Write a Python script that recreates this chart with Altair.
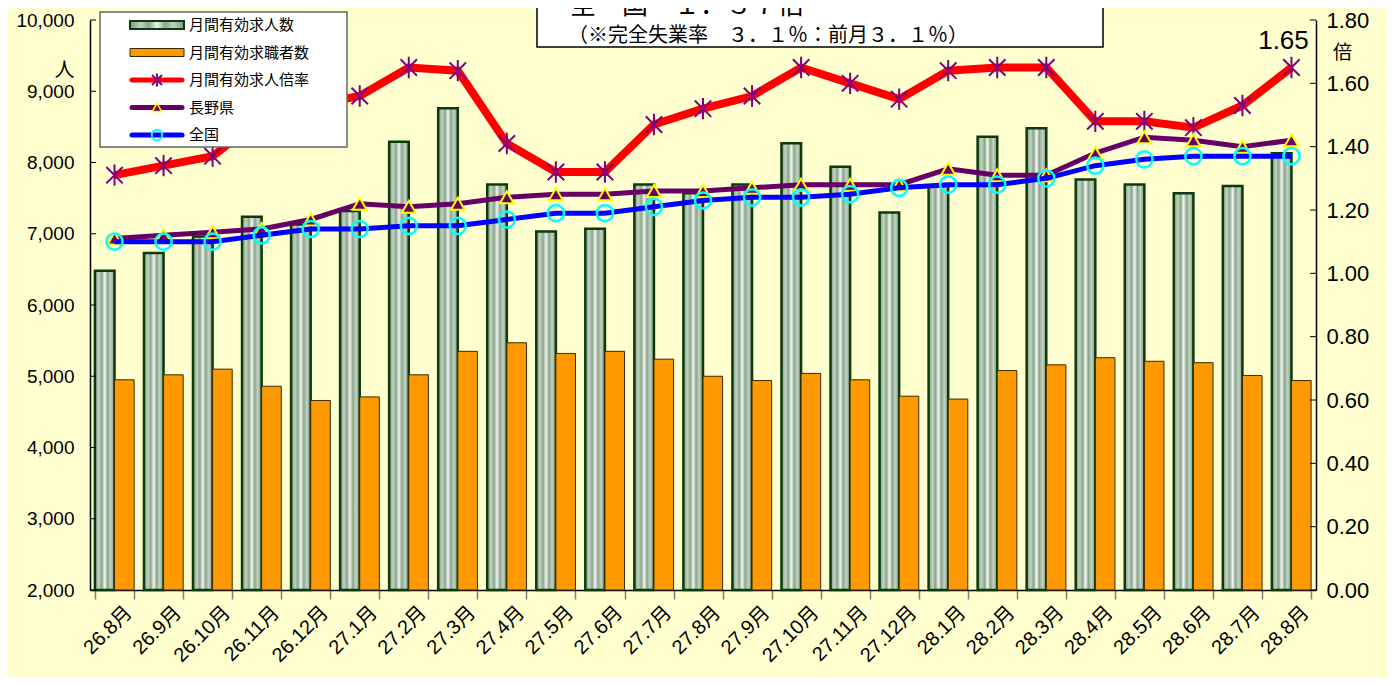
import altair as alt
import pandas as pd

# ---------------- data ----------------
months = ["26.8月", "26.9月", "26.10月", "26.11月", "26.12月",
          "27.1月", "27.2月", "27.3月", "27.4月", "27.5月", "27.6月",
          "27.7月", "27.8月", "27.9月", "27.10月", "27.11月", "27.12月",
          "28.1月", "28.2月", "28.3月", "28.4月", "28.5月", "28.6月",
          "28.7月", "28.8月"]
offers = [6480, 6730, 6960, 7240, 7130, 7320, 8290, 8760, 7690, 7030, 7070,
          7690, 7570, 7690, 8270, 7940, 7300, 7670, 8360, 8480, 7760, 7690,
          7570, 7670, 8130]
seekers = [4950, 5020, 5100, 4860, 4660, 4710, 5020, 5350, 5470, 5320, 5350,
           5240, 5000, 4940, 5040, 4950, 4720, 4680, 5080, 5160, 5260, 5210,
           5190, 5010, 4940]
ratio = [1.31, 1.34, 1.37, 1.49, 1.53, 1.56, 1.65, 1.64, 1.41, 1.32, 1.32,
         1.47, 1.52, 1.56, 1.65, 1.60, 1.55, 1.64, 1.65, 1.65, 1.48, 1.48,
         1.46, 1.53, 1.65]
nagano = [1.11, 1.12, 1.13, 1.14, 1.17, 1.22, 1.21, 1.22, 1.24, 1.25, 1.25,
          1.26, 1.26, 1.27, 1.28, 1.28, 1.28, 1.33, 1.31, 1.31, 1.38, 1.43,
          1.42, 1.40, 1.42]
national = [1.10, 1.10, 1.10, 1.12, 1.14, 1.14, 1.15, 1.15, 1.17, 1.19, 1.19,
            1.21, 1.23, 1.24, 1.24, 1.25, 1.27, 1.28, 1.28, 1.30, 1.34, 1.36,
            1.37, 1.37, 1.37]
series_names = ["月間有効求人数", "月間有効求職者数", "月間有効求人倍率", "長野県", "全国"]
left_ticks = [2000, 3000, 4000, 5000, 6000, 7000, 8000, 9000, 10000]
right_ticks = [0.0, 0.2, 0.4, 0.6, 0.8, 1.0, 1.2, 1.4, 1.6, 1.8]
title_line1 = "全　国　１．３７倍"
title_line2 = "（※完全失業率　３．１％：前月３．１％）"

# ---------------- styling ----------------
W, H = 1226, 570
FONT = "Liberation Sans, Noto Sans CJK JP, sans-serif"
JFONT = "Noto Sans CJK JP, sans-serif"
BG = "#FFFFD0"
GREEN_FILL = alt.LinearGradient(
    gradient="linear", x1=0, x2=1, y1=0, y2=0,
    stops=[alt.GradientStop(offset=0.0, color="#76987a"),
           alt.GradientStop(offset=0.2, color="#c4d2c4"),
           alt.GradientStop(offset=0.35, color="#8aa68a"),
           alt.GradientStop(offset=0.5, color="#f2f5f2"),
           alt.GradientStop(offset=0.65, color="#8aa68a"),
           alt.GradientStop(offset=0.8, color="#c4d2c4"),
           alt.GradientStop(offset=1.0, color="#76987a")])
GREEN_STROKE = "#0B3B0B"
ORANGE = "#FF9900"
RED = "#FF0000"
PURPLE = "#660066"
STAR = "#800080"
BLUE = "#0000FF"
CYAN = "#00FFFF"
STAR_SHAPE = "M-1,-1L1,1M-1,1L1,-1M0,-1.3L0,1.3"

bars_df = pd.DataFrame({
    "month": months * 2,
    "series": [series_names[0]] * len(months) + [series_names[1]] * len(months),
    "value": offers + seekers,
})
lines_df = pd.DataFrame({"month": months, "ratio": ratio,
                         "nagano": nagano, "national": national})
lt_df = pd.DataFrame({"value": left_ticks})
rt_df = pd.DataFrame({"r": right_ticks})

x_enc = alt.X(
    "month:N", sort=months,
    scale=alt.Scale(domain=months, paddingInner=0.2, paddingOuter=0.1),
    axis=alt.Axis(title=None, labelAngle=-45, labelAlign="right",
                  labelBaseline="middle", labelFontSize=20, labelFont=FONT,
                  labelColor="black", labelPadding=10, labelOffset=14,
                  tickBand="extent", tickColor="#808080", tickSize=9,
                  tickWidth=1.5, domainColor="black", domainWidth=1.5,
                  grid=False, labelOverlap=False))

left_scale = alt.Scale(domain=[2000, 10000], nice=False, zero=False)
left_axis = alt.Axis(values=left_ticks, format=",.0f", orient="left", title="人",
                     titleAngle=0, titleX=-26, titleY=50, titleFontSize=20,
                     titleFont=JFONT, titleFontWeight="normal",
                     titleColor="black", titleAlign="center",
                     titleBaseline="middle", labelFontSize=19, labelFont=FONT,
                     labelColor="black", labelPadding=16, tickSize=0,
                     grid=False, domainColor="black", domainWidth=1.5)
right_scale = alt.Scale(domain=[0, 1.8], nice=False, zero=True)
right_axis = alt.Axis(values=right_ticks, format=".2f", orient="right",
                      title="倍", titleAngle=0, titleX=26, titleY=32,
                      titleFontSize=19, titleFont=JFONT,
                      titleFontWeight="normal", titleColor="black",
                      titleAlign="center", titleBaseline="middle",
                      labelFontSize=22, labelFont=FONT, labelColor="black",
                      labelPadding=10, tickSize=0, grid=False,
                      domainColor="black", domainWidth=1.5)

def y_left(field="value"):
    return alt.Y(f"{field}:Q", scale=left_scale, axis=left_axis)

def y_right(field):
    return alt.Y(f"{field}:Q", scale=right_scale, axis=right_axis)

xoff = alt.XOffset("series:N", scale=alt.Scale(domain=series_names[:2],
                                                paddingInner=0, paddingOuter=0))

base_bars = alt.Chart(bars_df)
green = base_bars.transform_filter(alt.datum.series == series_names[0]).mark_bar(
    fill=GREEN_FILL, stroke=GREEN_STROKE, strokeWidth=2.5
).encode(x=x_enc, xOffset=xoff, y=y_left(), y2=alt.datum(2000))
orange = base_bars.transform_filter(alt.datum.series == series_names[1]).mark_bar(
    fill=ORANGE, stroke="#3a2a00", strokeWidth=1
).encode(x=x_enc, xOffset=xoff, y=y_left(), y2=alt.datum(2000))
ticks_l = alt.Chart(lt_df).mark_rule(color="black", strokeWidth=1).encode(
    y=y_left(), x=alt.value(0), x2=alt.value(6))
left_layer = alt.layer(green, orange, ticks_l)

base_l = alt.Chart(lines_df)
red_line = base_l.mark_line(color=RED, strokeWidth=8).encode(x=x_enc, y=y_right("ratio"))
red_pts = base_l.mark_point(shape=STAR_SHAPE, filled=False, stroke=STAR,
                            strokeWidth=2, size=270, opacity=1).encode(
    x=x_enc, y=y_right("ratio"))
pur_line = base_l.mark_line(color=PURPLE, strokeWidth=5).encode(x=x_enc, y=y_right("nagano"))
pur_pts = base_l.mark_point(shape="triangle-up", filled=True, fill=PURPLE,
                            stroke="#FFFF00", strokeWidth=2, size=190,
                            opacity=1).encode(x=x_enc, y=y_right("nagano"))
blu_line = base_l.mark_line(color=BLUE, strokeWidth=5).encode(x=x_enc, y=y_right("national"))
blu_pts = base_l.mark_point(shape="circle", filled=False, stroke=CYAN,
                            strokeWidth=2.5, size=260, opacity=1).encode(
    x=x_enc, y=y_right("national"))
last_lbl = base_l.transform_filter(alt.datum.month == months[-1]).mark_text(
    fontSize=26, font=FONT, color="black", dx=-8, dy=-27
).encode(x=x_enc, y=y_right("ratio"), text=alt.Text("ratio:Q", format=".2f"))
ticks_r = alt.Chart(rt_df).mark_rule(color="black", strokeWidth=1).encode(
    y=y_right("r"), x=alt.value(W - 6), x2=alt.value(W))
right_layer = alt.layer(red_line, red_pts, pur_line, pur_pts, blu_line,
                        blu_pts, last_lbl, ticks_r)

# ---------------- legend (annotation) ----------------
LX0, LX1, LY0, LY1 = 10, 257, -8, 127
ROW0, ROWH = 5, 27.5
SYM0, SYM1, MARK_X, TXT_X = 40, 94, 67, 99
leg_df = pd.DataFrame({"label": series_names, "idx": list(range(5))})
leg_df["ly"] = ROW0 + leg_df["idx"] * ROWH
leg_base = alt.Chart(leg_df)
one = alt.Chart(pd.DataFrame({"a": [0]}))

leg_box = one.mark_rect(fill="white", stroke="#666666", strokeWidth=1.5).encode(
    x=alt.value(LX0), x2=alt.value(LX1), y=alt.value(LY0), y2=alt.value(LY1))

def ly(field="ly"):
    return alt.Y(f"{field}:Q", scale=None, axis=None)

leg_rect_g = leg_base.transform_filter(alt.datum.idx == 0).transform_calculate(
    t="datum.ly - 4", b="datum.ly + 4").mark_rect(
    fill=GREEN_FILL, stroke=GREEN_STROKE, strokeWidth=2).encode(
    x=alt.value(SYM0), x2=alt.value(SYM1), y=ly("t"), y2=alt.Y2("b:Q"))
leg_rect_o = leg_base.transform_filter(alt.datum.idx == 1).transform_calculate(
    t="datum.ly - 4", b="datum.ly + 4").mark_rect(
    fill=ORANGE, stroke="#3a2a00", strokeWidth=1).encode(
    x=alt.value(SYM0), x2=alt.value(SYM1), y=ly("t"), y2=alt.Y2("b:Q"))
leg_lines = leg_base.transform_filter(alt.datum.idx >= 2).mark_rule(
    strokeWidth=5, strokeCap="round").encode(
    x=alt.value(SYM0 + 2), x2=alt.value(SYM1 - 2), y=ly(),
    color=alt.Color("label:N", scale=alt.Scale(domain=series_names[2:],
                                               range=[RED, PURPLE, BLUE]),
                    legend=None))
leg_star = leg_base.transform_filter(alt.datum.idx == 2).mark_point(
    shape=STAR_SHAPE, filled=False, stroke=STAR, strokeWidth=2, size=100,
    opacity=1).encode(x=alt.value(MARK_X), y=ly())
leg_tri = leg_base.transform_filter(alt.datum.idx == 3).mark_point(
    shape="triangle-up", filled=True, fill=PURPLE, stroke="#FFFF00",
    strokeWidth=1.5, size=90, opacity=1).encode(x=alt.value(MARK_X), y=ly())
leg_circ = leg_base.transform_filter(alt.datum.idx == 4).mark_point(
    shape="circle", filled=False, stroke=CYAN, strokeWidth=2, size=110,
    opacity=1).encode(x=alt.value(MARK_X), y=ly())
leg_text = leg_base.mark_text(align="left", baseline="middle", fontSize=15,
                              font=JFONT, color="black").encode(
    x=alt.value(TXT_X), y=ly(), text="label:N")

# ---------------- title box (annotation) ----------------
tbox = one.mark_rect(fill="white", stroke="black", strokeWidth=1.5).encode(
    x=alt.value(447), x2=alt.value(1013), y=alt.value(-30), y2=alt.value(27))
t1 = alt.Chart(pd.DataFrame({"t": [title_line1]})).mark_text(
    align="left", baseline="alphabetic", fontSize=26, font=JFONT,
    color="black").encode(x=alt.value(480), y=alt.value(-6), text="t:N")
t2 = alt.Chart(pd.DataFrame({"t": [title_line2]})).mark_text(
    align="left", baseline="middle", fontSize=20, font=JFONT,
    color="black").encode(x=alt.value(478), y=alt.value(16), text="t:N")

chart = alt.layer(
    left_layer, right_layer,
    leg_box, leg_rect_g, leg_rect_o, leg_lines, leg_star, leg_tri, leg_circ,
    leg_text, tbox, t1, t2
).resolve_scale(y="independent", color="independent").properties(
    width=W, height=H,
    autosize=alt.AutoSizeParams(type="none"),
    padding={"left": 82, "top": 12, "right": 71, "bottom": 88},
    background=BG,
).configure_view(strokeWidth=0)

chart.save("out.html", embed_options={"renderer": "svg", "actions": False})
